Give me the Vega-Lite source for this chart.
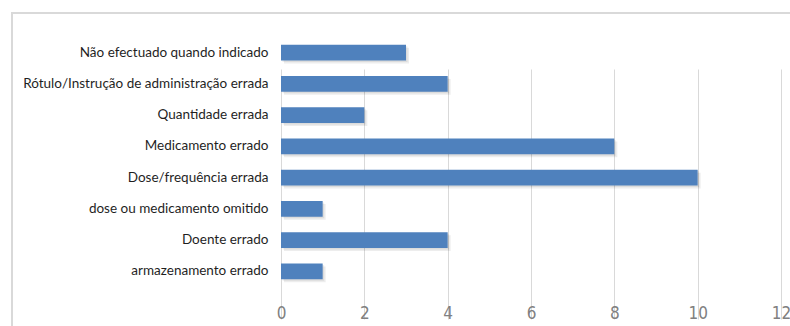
{
  "$schema": "https://vega.github.io/schema/vega-lite/v6.json",
  "autosize": {"type": "none"},
  "padding": {"left": 12, "top": 13, "right": 0, "bottom": 0},
  "width": 790,
  "height": 330,
  "background": "#ffffff",
  "data": {
    "values": [
      {"tipo": "Não efectuado quando indicado", "n": 3},
      {"tipo": "Rótulo/Instrução de administração errada", "n": 4},
      {"tipo": "Quantidade errada", "n": 2},
      {"tipo": "Medicamento errado", "n": 8},
      {"tipo": "Dose/frequência errada", "n": 10},
      {"tipo": "dose ou medicamento omitido", "n": 1},
      {"tipo": "Doente errado", "n": 4},
      {"tipo": "armazenamento errado", "n": 1}
    ]
  },
  "encoding": {
    "y": {
      "field": "tipo",
      "type": "nominal",
      "sort": null,
      "scale": {"range": [24, 274], "paddingInner": 0.5, "paddingOuter": 0.25},
      "axis": {
        "title": null,
        "orient": "left",
        "offset": -269,
        "domain": false,
        "ticks": false,
        "grid": false,
        "labelPadding": 13,
        "labelFont": "Lato",
        "labelFontSize": 13.5,
        "labelColor": "#1f1f1f",
        "labelLimit": 400
      }
    },
    "x": {
      "field": "n",
      "type": "quantitative",
      "scale": {"domain": [0, 12], "range": [269, 769], "nice": false},
      "axis": {
        "title": null,
        "orient": "bottom",
        "offset": -30,
        "values": [0, 2, 4, 6, 8, 10, 12],
        "domain": false,
        "ticks": false,
        "grid": true,
        "gridColor": "#d9d9d9",
        "gridWidth": 1,
        "labelFlush": false,
        "labelPadding": 0,
        "labelBaseline": "middle",
        "labelFont": "Liberation Sans Narrow, DejaVu Sans Condensed, sans-serif",
        "labelFontSize": 17,
        "labelColor": "#808080"
      }
    }
  },
  "layer": [
    {
      "mark": {"type": "bar", "color": "#000000", "opacity": 0.07, "xOffset": 3, "yOffset": 3}
    },
    {
      "mark": {"type": "bar", "color": "#000000", "opacity": 0.07, "xOffset": 1.5, "yOffset": 1.5}
    },
    {
      "mark": {"type": "bar", "color": "#4f81bd"}
    }
  ],
  "config": {
    "view": {"stroke": "#d9d9d9", "strokeWidth": 2}
  }
}
